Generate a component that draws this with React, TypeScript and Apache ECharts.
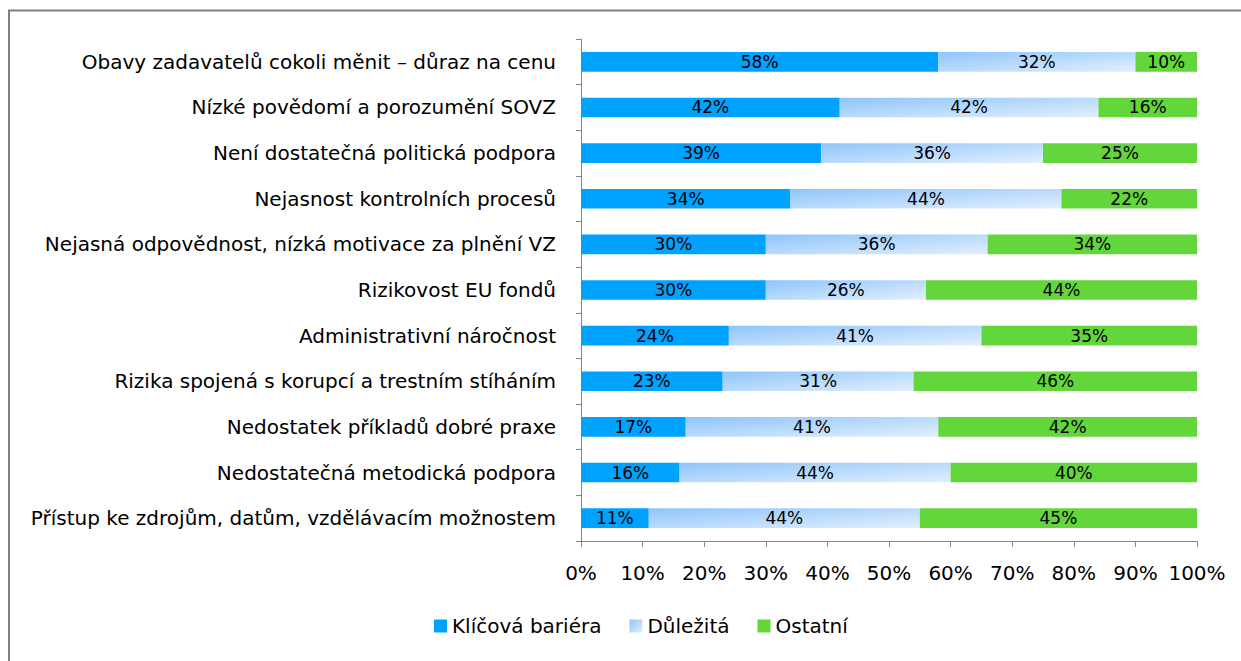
import React, { useEffect, useRef } from "react";
import * as echarts from "echarts";

const categories = [
  "Obavy zadavatelů cokoli měnit – důraz na cenu",
  "Nízké povědomí a porozumění SOVZ",
  "Není dostatečná politická podpora",
  "Nejasnost kontrolních procesů",
  "Nejasná odpovědnost, nízká motivace za plnění VZ",
  "Rizikovost EU fondů",
  "Administrativní náročnost",
  "Rizika spojená s korupcí a trestním stíháním",
  "Nedostatek příkladů dobré praxe",
  "Nedostatečná metodická podpora",
  "Přístup ke zdrojům, datům, vzdělávacím možnostem",
];
const klicova = [58, 42, 39, 34, 30, 30, 24, 23, 17, 16, 11];
const dulezita = [32, 42, 36, 44, 36, 26, 41, 31, 41, 44, 44];
const ostatni = [10, 16, 25, 22, 34, 44, 35, 46, 42, 40, 45];
const seriesNames = ["Klíčová bariéra", "Důležitá", "Ostatní"];

const FONT = "DejaVu Sans";

export default function App() {
  const ref = useRef<HTMLDivElement>(null);
  useEffect(() => {
    if (!ref.current) return;
    const chart = echarts.init(ref.current, null, { renderer: "svg" });
    const label = {
      show: true,
      position: "inside",
      color: "#000",
      fontFamily: FONT,
      fontSize: 17,
      formatter: (p: any) => p.value + "%",
    };
    const grad = new echarts.graphic.LinearGradient(0, 0, 1, 1, [
      { offset: 0, color: "#8fc5fb" },
      { offset: 1, color: "#e2effd" },
    ]);
    chart.setOption({
      animation: false,
      textStyle: { fontFamily: FONT },
      graphic: [
        {
          type: "polyline",
          shape: { points: [[9, 700], [9, 10.5], [1300, 10.5]] },
          style: { fill: "none", stroke: "#7f7f7f", lineWidth: 2 },
          silent: true,
        },
      ],
      grid: { left: 581, right: 44, top: 39, bottom: 120, containLabel: false },
      legend: {
        bottom: 20,
        left: 429,
        itemWidth: 13,
        itemHeight: 13,
        itemGap: 28,
        icon: "rect",
        textStyle: { fontFamily: FONT, fontSize: 20, color: "#000" },
        data: seriesNames,
      },
      xAxis: {
        type: "value",
        min: 0,
        max: 100,
        interval: 10,
        splitLine: { show: false },
        axisLine: { show: true, lineStyle: { color: "#868686" } },
        axisTick: { show: true, length: 6, lineStyle: { color: "#868686" } },
        axisLabel: {
          formatter: (v: number) => v + "%",
          fontFamily: FONT,
          fontSize: 20,
          color: "#000",
          margin: 22,
        },
      },
      yAxis: {
        type: "category",
        inverse: true,
        data: categories,
        axisLine: { show: true, lineStyle: { color: "#868686" } },
        axisTick: { show: true, length: 5, lineStyle: { color: "#868686" } },
        axisLabel: {
          fontFamily: FONT,
          fontSize: 20,
          color: "#000",
          margin: 25,
        },
      },
      series: [
        {
          name: seriesNames[0],
          type: "bar",
          stack: "a",
          barCategoryGap: "57%",
          data: klicova,
          itemStyle: { color: "#00a2ff" },
          label,
        },
        {
          name: seriesNames[1],
          type: "bar",
          stack: "a",
          data: dulezita,
          itemStyle: { color: grad },
          label,
        },
        {
          name: seriesNames[2],
          type: "bar",
          stack: "a",
          data: ostatni,
          itemStyle: { color: "#62d63a" },
          label,
        },
      ],
    });
    return () => chart.dispose();
  }, []);
  return (
    <div
      ref={ref}
      style={{ position: "absolute", left: 0, top: 0, width: 1241, height: 661, background: "#fff" }}
    />
  );
}
